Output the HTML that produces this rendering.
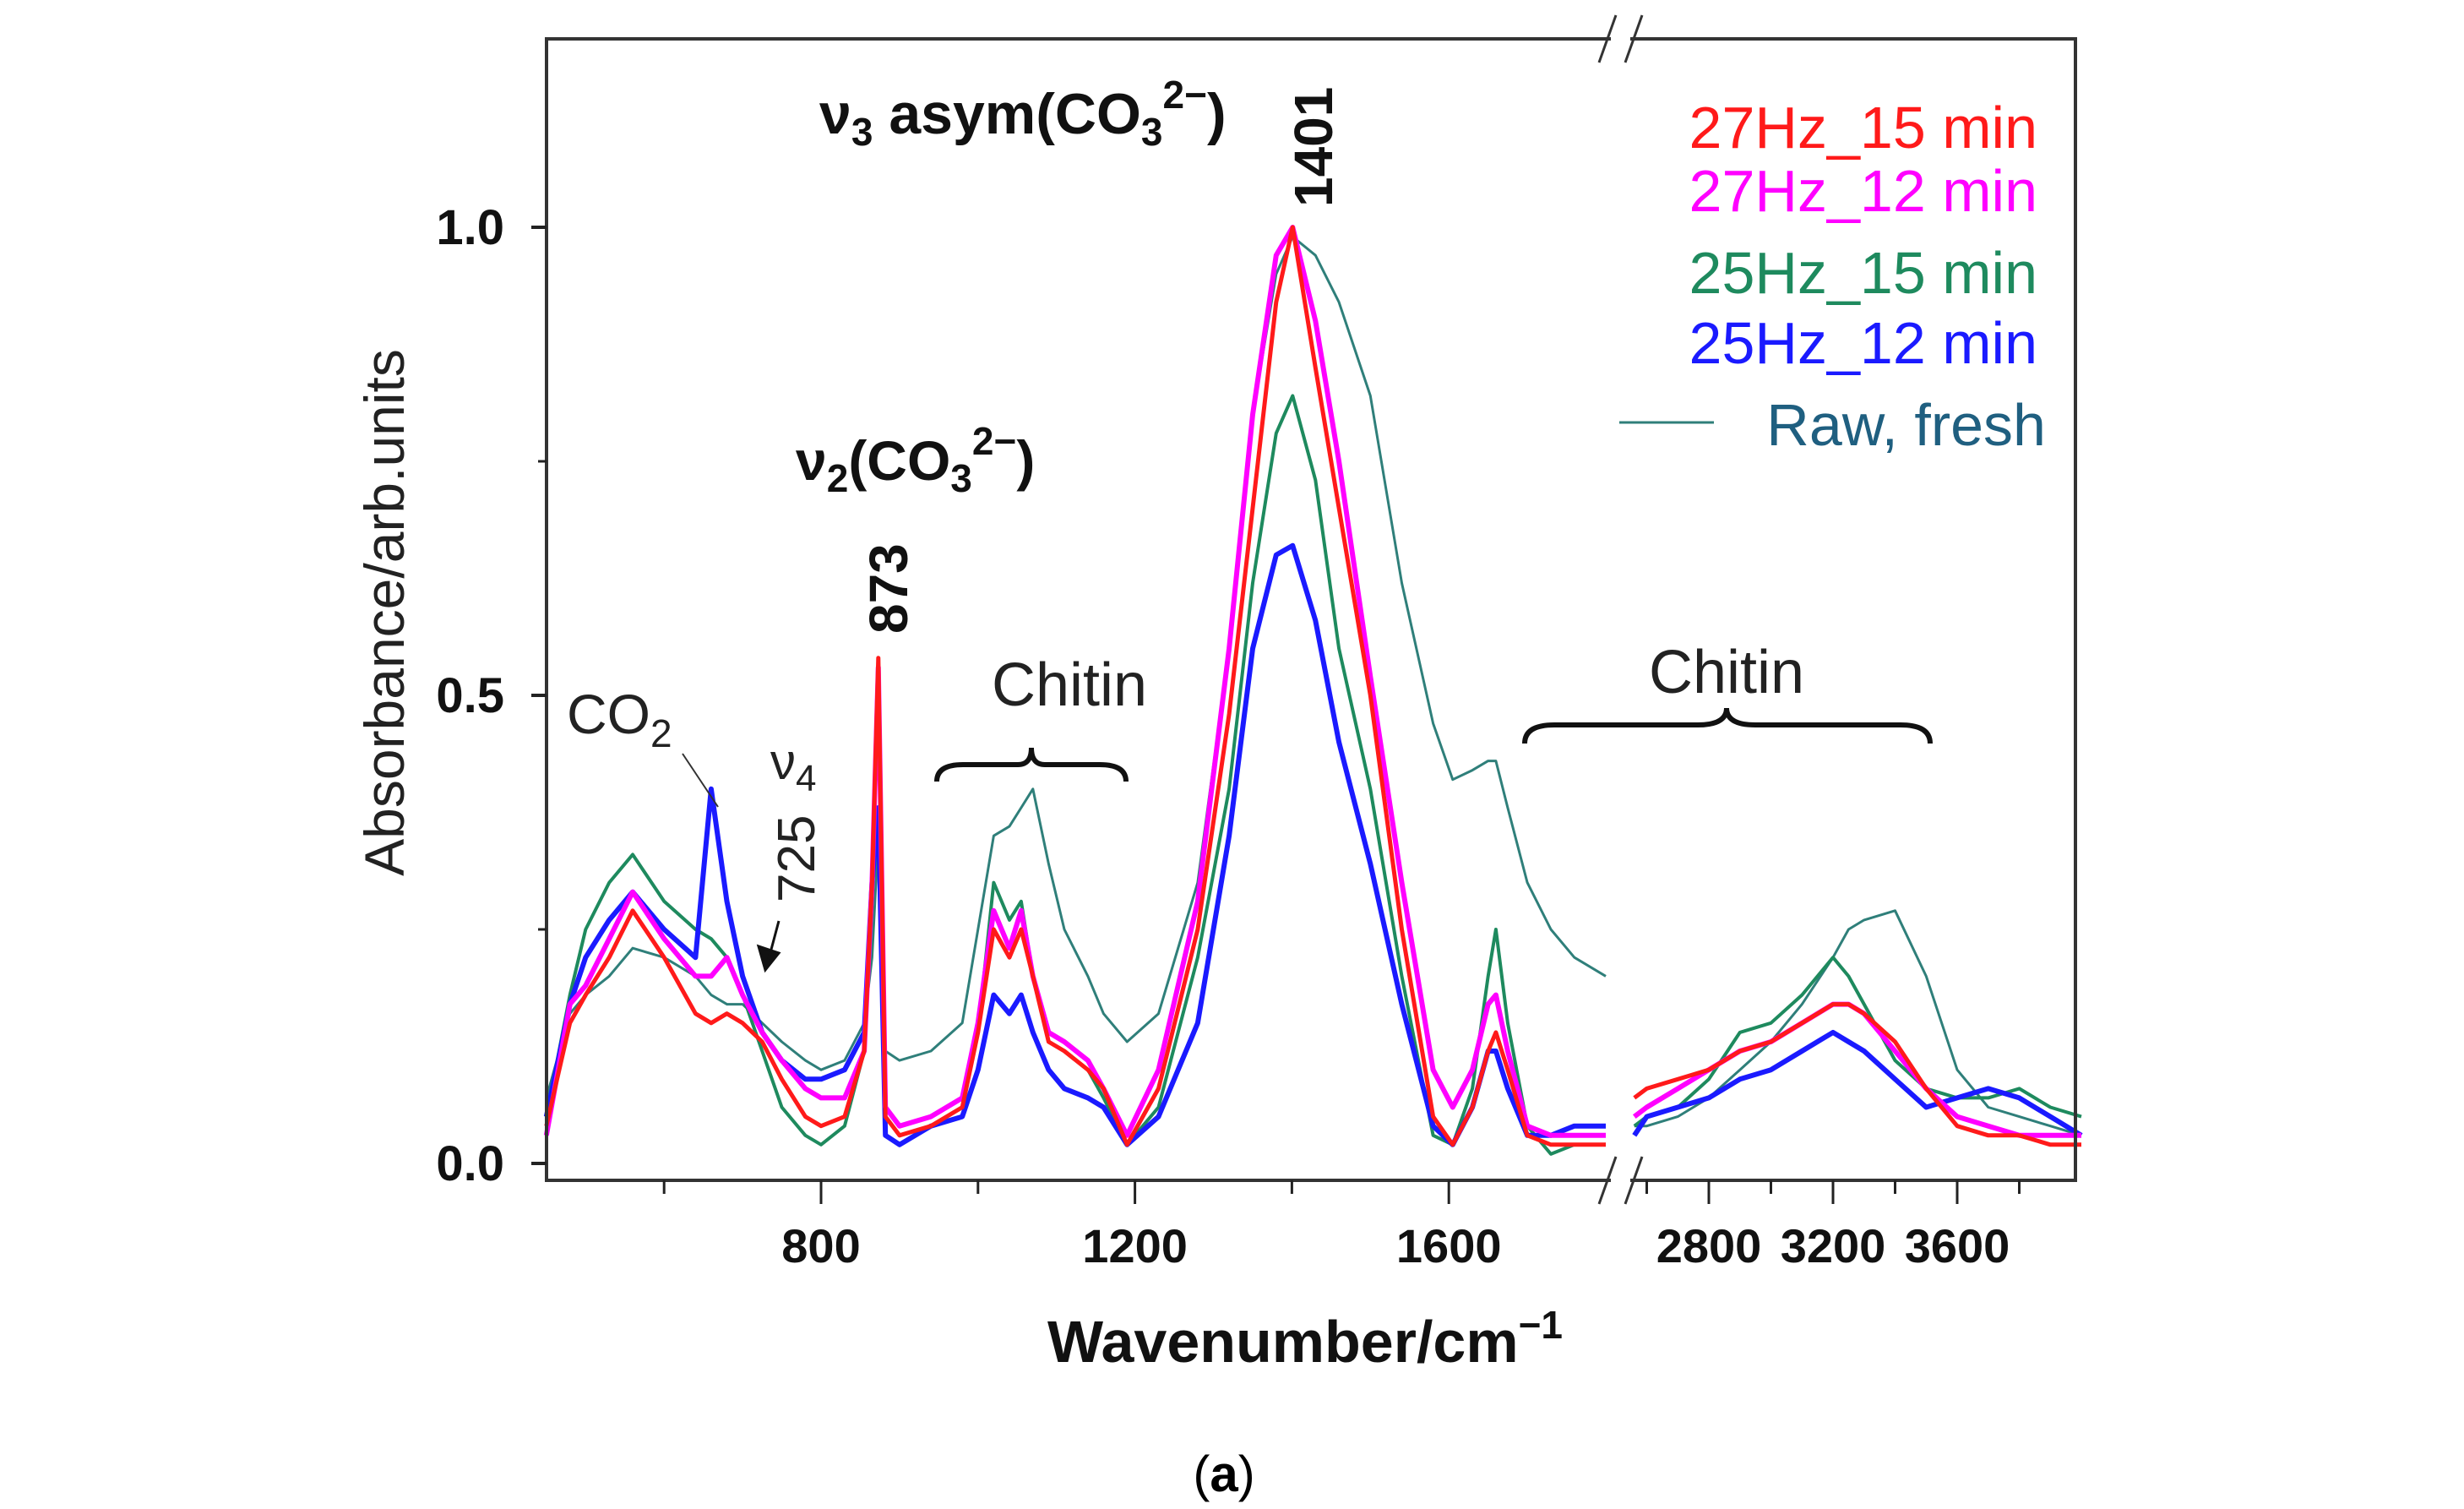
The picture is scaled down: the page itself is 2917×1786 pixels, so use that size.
<!DOCTYPE html>
<html><head><meta charset="utf-8"><style>
html,body{margin:0;padding:0;background:#fff}
svg{display:block}
text{font-family:"Liberation Sans",sans-serif}
</style></head><body>
<svg id="chart" width="2917" height="1786" viewBox="0 0 2917 1786" xmlns="http://www.w3.org/2000/svg">
<g id="plot"></g>
<g id="axes"></g>
<g id="ann">
<text transform="translate(478,725) rotate(-90)" text-anchor="middle" font-size="66" fill="#222">Absorbance/arb.units</text>
<text x="1545" y="1612" text-anchor="middle" font-size="70" font-weight="bold" fill="#111">Wavenumber/cm<tspan dy="-28" font-size="46">−1</tspan></text>
<text x="1449" y="1765" text-anchor="middle" font-size="60" font-family="Liberation Serif, serif" fill="#000">(<tspan font-weight="bold">a</tspan>)</text>
<text x="970" y="158" font-size="68" font-weight="bold" fill="#111">ν<tspan dy="14" font-size="46">3</tspan><tspan dy="-14"> asym(CO</tspan><tspan dy="14" font-size="46">3</tspan><tspan dy="-44" font-size="46">2−</tspan><tspan dy="30">)</tspan></text>
<text transform="translate(1577,245) rotate(-90)" font-size="64" font-weight="bold" fill="#111">1401</text>
<text x="942" y="568" font-size="66" font-weight="bold" fill="#111">ν<tspan dy="14" font-size="46">2</tspan><tspan dy="-14">(CO</tspan><tspan dy="14" font-size="46">3</tspan><tspan dy="-44" font-size="46">2−</tspan><tspan dy="30">)</tspan></text>
<text transform="translate(1074,750) rotate(-90)" font-size="64" font-weight="bold" fill="#111">873</text>
<text x="1266" y="835" text-anchor="middle" font-size="72" fill="#222">Chitin</text>
<text x="2044" y="820" text-anchor="middle" font-size="72" fill="#222">Chitin</text>
<path d="M1109,925 Q1109,905 1140,905 L1205,905 Q1221,905 1221,885 Q1221,905 1237,905 L1302,905 Q1333,905 1333,925" fill="none" stroke="#111" stroke-width="6"/>
<path d="M1805,880 Q1805,858 1840,858 L2010,858 Q2044,858 2044,838 Q2044,858 2078,858 L2250,858 Q2285,858 2285,880" fill="none" stroke="#111" stroke-width="6"/>
<text x="671" y="868" font-size="66" fill="#222">CO<tspan dy="16" font-size="46">2</tspan></text>
<line x1="808" y1="892" x2="850" y2="955" stroke="#333" stroke-width="2"/>
<text x="912" y="922" font-size="60" fill="#222">ν<tspan dy="14" font-size="44">4</tspan></text>
<text transform="translate(964,1068) rotate(-90)" font-size="62" fill="#222">725</text>
<path d="M922,1090 L910,1135 M898,1120 L906,1148 L922,1128 Z" stroke="#111" stroke-width="3" fill="#111"/>
</g>
<g id="legend">
<text x="2412" y="175" text-anchor="end" font-size="70" fill="#ff1a1a">27Hz_15 min</text>
<text x="2412" y="250" text-anchor="end" font-size="70" fill="#ff00ff">27Hz_12 min</text>
<text x="2412" y="347" text-anchor="end" font-size="70" fill="#1e8a5e">25Hz_15 min</text>
<text x="2412" y="430" text-anchor="end" font-size="70" fill="#1a1aff">25Hz_12 min</text>
<line x1="1917" y1="500" x2="2029" y2="500" stroke="#2f7f7a" stroke-width="3"/>
<text x="2422" y="527" text-anchor="end" font-size="70" fill="#1f5f80">Raw, fresh</text>
</g>
</svg>
<script>
const wnLeft=[450,480,500,530,560,600,640,660,680,700,725,750,780,800,830,855,865,873,882,900,940,980,1000,1020,1040,1055,1070,1090,1110,1140,1160,1190,1230,1280,1320,1350,1380,1401,1430,1460,1500,1540,1580,1605,1630,1650,1660,1675,1700,1730,1760,1800];
const red27_15L=[.04,.15,.18,.22,.27,.22,.16,.15,.16,.15,.13,.09,.05,.04,.05,.12,.30,.54,.05,.03,.04,.06,.14,.25,.22,.25,.20,.13,.12,.10,.08,.02,.08,.25,.48,.70,.92,1.0,.85,.70,.50,.25,.05,.02,.06,.12,.14,.10,.03,.02,.02,.02];
const mag27_12L=[.03,.17,.19,.24,.29,.24,.20,.20,.22,.18,.14,.11,.08,.07,.07,.12,.30,.53,.06,.04,.05,.07,.15,.27,.23,.27,.20,.14,.13,.11,.08,.03,.10,.28,.55,.80,.97,1.0,.90,.75,.52,.30,.10,.06,.10,.17,.18,.12,.04,.03,.03,.03];
const grn25_15L=[.05,.18,.25,.30,.33,.28,.25,.24,.22,.18,.12,.06,.03,.02,.04,.12,.30,.38,.03,.02,.04,.06,.14,.30,.26,.28,.20,.13,.12,.10,.07,.02,.06,.22,.40,.62,.78,.82,.73,.55,.40,.20,.03,.02,.08,.20,.25,.15,.04,.01,.02,.02];
const blu25_12L=[.05,.17,.22,.26,.29,.25,.22,.40,.28,.20,.14,.11,.09,.09,.10,.14,.30,.38,.03,.02,.04,.05,.10,.18,.16,.18,.14,.10,.08,.07,.06,.02,.05,.15,.35,.55,.65,.66,.58,.45,.32,.17,.04,.02,.06,.12,.12,.08,.03,.03,.04,.04];
const rawL=[.07,.16,.18,.20,.23,.22,.20,.18,.17,.17,.15,.13,.11,.10,.11,.15,.22,.35,.12,.11,.12,.15,.25,.35,.36,.38,.40,.32,.25,.20,.16,.13,.16,.30,.55,.80,.95,.99,.97,.92,.82,.62,.47,.41,.42,.43,.43,.38,.30,.25,.22,.20];
const wnRight=[2560,2600,2700,2800,2900,3000,3100,3200,3250,3300,3400,3500,3600,3700,3800,3900,4000];
const red27_15R=[.07,.08,.09,.10,.12,.13,.15,.17,.17,.16,.13,.08,.04,.03,.03,.02,.02];
const mag27_12R=[.05,.06,.08,.10,.12,.13,.15,.17,.17,.16,.12,.08,.05,.04,.03,.03,.03];
const grn25_15R=[.04,.05,.06,.09,.14,.15,.18,.22,.20,.17,.11,.08,.07,.07,.08,.06,.05];
const blu25_12R=[.03,.05,.06,.07,.09,.10,.12,.14,.13,.12,.09,.06,.07,.08,.07,.05,.03];
const rawR=[.04,.04,.05,.07,.10,.13,.17,.22,.25,.26,.27,.20,.10,.06,.05,.04,.03];
const xTicksLeft=[800,1200,1600];
const xMinorLeft=[600,1000,1400];
const xTicksRight=[2800,3200,3600];
const xMinorRight=[2600,3000,3400,3800];
const yTicks=[0,0.5,1.0];
const yTickLabels=["0.0","0.5","1.0"];
const yMinor=[0.25,0.75];

const NS="http://www.w3.org/2000/svg";
const xL=w=>972+(w-800)*0.929;
const xR=w=>2023+(w-2800)*0.3675;
const y=v=>1377-v*1108;
const L=647,R=2457,T=46,B=1397,BR1=1907,BR2=1930;
function mk(tag,attrs,parent){const e=document.createElementNS(NS,tag);for(const k in attrs)e.setAttribute(k,attrs[k]);parent.appendChild(e);return e;}
const plot=document.getElementById('plot'),axes=document.getElementById('axes');
const series=[
 ['raw-fresh',rawL,rawR,'#2f7f7a',3],
 ['25hz-15min',grn25_15L,grn25_15R,'#1e8a5e',4],
 ['25hz-12min',blu25_12L,blu25_12R,'#1a1aff',6],
 ['27hz-12min',mag27_12L,mag27_12R,'#ff00ff',6],
 ['27hz-15min',red27_15L,red27_15R,'#ff1a1a',5]];
series.forEach(s=>{
 const dl=s[1].map((v,i)=>(i?'L':'M')+xL(wnLeft[i]).toFixed(1)+','+y(v).toFixed(1)).join('');
 const p1=mk('path',{d:dl,fill:'none',stroke:s[3],'stroke-width':s[4],'stroke-linejoin':'round'},plot);
 
 
 const dr=s[2].map((v,i)=>(i?'L':'M')+xR(wnRight[i]).toFixed(1)+','+y(v).toFixed(1)).join('');
 const p2=mk('path',{d:dr,fill:'none',stroke:s[3],'stroke-width':s[4],'stroke-linejoin':'round'},plot);
 
 
});
const fr=mk('path',{d:`M${BR1},${T}L${L},${T}L${L},${B}L${BR1},${B}M${BR2},${B}L${R},${B}L${R},${T}L${BR2},${T}`,fill:'none',stroke:'#333','stroke-width':4},axes);


[[T],[B]].forEach((a,k)=>{
 const br=mk('path',{d:`M${BR1-14},${a[0]+28}L${BR1+6},${a[0]-28}M${BR2-6},${a[0]+28}L${BR2+14},${a[0]-28}`,stroke:'#333','stroke-width':3,fill:'none'},axes);
 
 
});
function xtick(x,len,label,name){
 const t=mk('line',{x1:x,y1:B,x2:x,y2:B+len,stroke:'#222','stroke-width':3},axes);
 
 
 if(label!==null){const tx=mk('text',{x:x,y:1494,'text-anchor':'middle','font-size':56,'font-weight':'bold',fill:'#111'},axes);tx.textContent=label;
 
 }
}
xTicksLeft.forEach(w=>xtick(xL(w),28,String(w),w));
xMinorLeft.forEach(w=>xtick(xL(w),16,null,w));
xTicksRight.forEach(w=>xtick(xR(w),28,String(w),w));
xMinorRight.forEach(w=>xtick(xR(w),16,null,w));
yTicks.forEach((v,i)=>{
 const t=mk('line',{x1:L-18,y1:y(v),x2:L,y2:y(v),stroke:'#222','stroke-width':4},axes);
 
 
 const tx=mk('text',{x:597,y:y(v)+20,'text-anchor':'end','font-size':58,'font-weight':'bold',fill:'#111'},axes);
 tx.textContent=yTickLabels[i];
 
 
});
yMinor.forEach(v=>{
 const t=mk('line',{x1:L-10,y1:y(v),x2:L,y2:y(v),stroke:'#222','stroke-width':3},axes);
 
 
});
</script>
</body></html>
